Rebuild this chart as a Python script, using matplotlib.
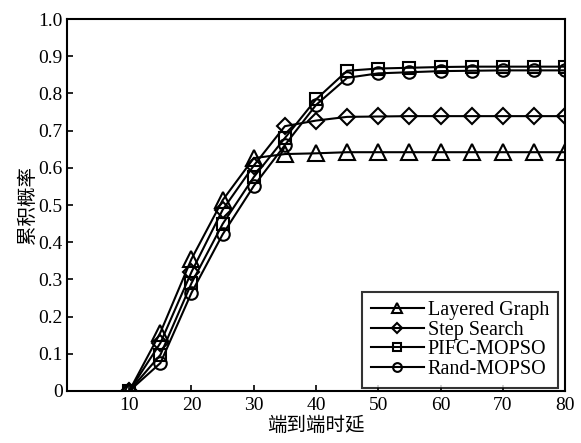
import matplotlib
matplotlib.use("Agg")
import matplotlib.pyplot as plt

x = [10, 15, 20, 25, 30, 35, 40, 45, 50, 55, 60, 65, 70, 75, 80]
layered = [0, 0.157, 0.355, 0.513, 0.626, 0.637, 0.639, 0.642, 0.642, 0.642, 0.642, 0.642, 0.642, 0.642, 0.642]
step = [0, 0.129, 0.32, 0.487, 0.606, 0.712, 0.727, 0.737, 0.738, 0.739, 0.739, 0.739, 0.739, 0.739, 0.739]
pifc = [0, 0.097, 0.29, 0.449, 0.575, 0.68, 0.784, 0.861, 0.867, 0.869, 0.871, 0.872, 0.872, 0.872, 0.872]
rand = [0, 0.075, 0.264, 0.421, 0.551, 0.661, 0.769, 0.842, 0.854, 0.857, 0.86, 0.861, 0.862, 0.862, 0.862]
names = ["Layered Graph", "Step Search", "PIFC-MOPSO", "Rand-MOPSO"]
markers = ["^", "D", "s", "o"]
xticks = [10, 20, 30, 40, 50, 60, 70, 80]
yticks = [0, 0.1, 0.2, 0.3, 0.4, 0.5, 0.6, 0.7, 0.8, 0.9, 1.0]
ylabels = ["0", "0.1", "0.2", "0.3", "0.4", "0.5", "0.6", "0.7", "0.8", "0.9", "1.0"]

plt.rcParams['font.family'] = ['Liberation Serif', 'Noto Sans CJK SC', 'DejaVu Sans']

fig = plt.figure(figsize=(5.81, 4.43), dpi=100)
ax = fig.add_axes([0.1153, 0.1174, 0.8572, 0.8396])
sizes = [11, 8, 8, 9]
for ys, n, m, s in zip([layered, step, pifc, rand], names, markers, sizes):
    ax.plot(x, ys, color='black', lw=1.5, marker=m, markersize=s,
            markerfacecolor='none', markeredgecolor='black', markeredgewidth=1.5, label=n)

ax.set_xlim(0, 80)
ax.set_ylim(0, 1.0)
ax.set_xticks(xticks)
ax.set_yticks(yticks)
ax.set_yticklabels(ylabels)
ax.tick_params(direction='in', length=4, width=1.2, labelsize=14, colors='black')
ax.tick_params(axis='x', pad=4)
ax.tick_params(axis='y', pad=3)
for sp in ax.spines.values():
    sp.set_linewidth(1.5)
ax.set_xlabel("端到端时延", fontsize=14, labelpad=2)
ax.set_ylabel("累积概率", fontsize=14, labelpad=1)
leg = ax.legend(loc='lower right', bbox_to_anchor=(0.986, 0.008), fontsize=14.5,
                frameon=True, fancybox=False, edgecolor='black', handlelength=2.6,
                handletextpad=0.2, labelspacing=0.02, borderpad=0.45, borderaxespad=0,
                markerscale=0.7)
leg.get_frame().set_linewidth(1.5)
fig.savefig("out.png", dpi=100)
